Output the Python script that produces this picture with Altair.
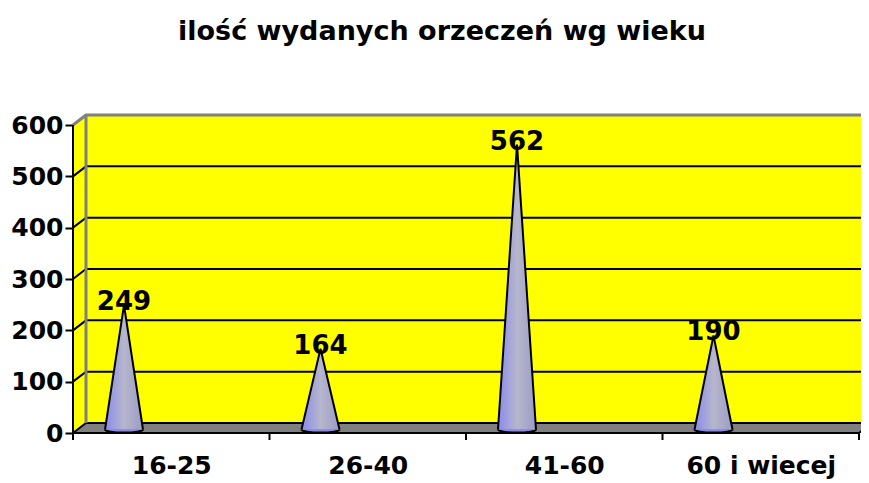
import json
import altair as alt
import pandas as pd

# ---------------- data ----------------
categories = ["16-25", "26-40", "41-60", "60 i wiecej"]
values = [249, 164, 562, 190]
y_ticks = [0, 100, 200, 300, 400, 500, 600]
title_text = "ilość wydanych orzeczeń wg wieku"

# ---------------- geometry (styling) ----------------
W, H = 788, 328                 # plot area in px
PX_CAT = 196.5                  # px per category band
PX_VAL = 308.0 / 600.0          # px per value unit
XMAX = W / PX_CAT
YMAX = H / PX_VAL
DX = 13 / PX_CAT                # 3D depth offset (x)
DY = 10 / PX_VAL                # 3D depth offset (y)
CONE_POS = 51 / PX_CAT          # cone position inside a band
HW = 19 / PX_CAT                # cone base half-width
BASE = 3.5 / PX_VAL             # cone base height above floor front
TOP = y_ticks[-1]
N = len(categories)

FONT = "DejaVu Sans"
YELLOW = "#FFFF00"
GRAY = "#808080"

xs = alt.Scale(domain=[0, XMAX], nice=False, zero=False)
ys = alt.Scale(domain=[0, YMAX], nice=False, zero=False)

xaxis = alt.Axis(
    values=[i + 0.5 for i in range(N)],
    labelExpr=json.dumps(categories) + "[round(datum.value - 0.5)]",
    ticks=False, domain=False, grid=False, title=None,
    labelFont=FONT, labelFontSize=25, labelFontWeight="bold", labelColor="black",
    labelPadding=20, labelFlush=False, labelOverlap=False,
)
yaxis = alt.Axis(
    values=y_ticks, tickSize=8, tickWidth=2, tickColor="black",
    domain=False, grid=False, title=None,
    labelFont=FONT, labelFontSize=25, labelFontWeight="bold", labelColor="black",
    labelPadding=2, labelFlush=False, labelOverlap=False,
)


def X(f):
    return alt.X(f, type="quantitative", scale=xs, axis=xaxis)


def Y(f):
    return alt.Y(f, type="quantitative", scale=ys, axis=yaxis)


# ---------------- frame tables ----------------
side_df = pd.DataFrame({"x": [0, DX], "y": [0, DY], "y2": [TOP, TOP + DY]})
back_df = pd.DataFrame({"x": [DX], "x2": [XMAX + 1], "y": [DY], "y2": [TOP + DY]})
floor_df = pd.DataFrame({"x": [0, DX, N, N + DX],
                         "y": [0, 0, 0, DY],
                         "y2": [0, DY, DY, DY]})
grid_rows = []
for v in y_ticks[:-1]:
    grid_rows += [{"g": v, "x": 0, "y": v},
                  {"g": v, "x": DX, "y": v + DY},
                  {"g": v, "x": XMAX, "y": v + DY}]
grid_df = pd.DataFrame(grid_rows)
border_df = pd.DataFrame({"x": [0, DX, XMAX], "y": [TOP, TOP + DY, TOP + DY]})
backedge_df = pd.DataFrame({"x": [DX], "y": [DY], "y2": [TOP + DY]})
rightedge_df = pd.DataFrame({"x": [N, N + DX], "y": [0, DY]})
xline_df = pd.DataFrame({"x": [0], "x2": [N], "y": [0]})
yline_df = pd.DataFrame({"x": [0], "y": [0], "y2": [TOP]})
xticks_df = pd.DataFrame({"x": list(range(N + 1))})

cone_rows = []
for i, (c, v) in enumerate(zip(categories, values)):
    cx = i + CONE_POS
    cone_rows += [{"cat": c, "x": cx - HW, "y": BASE, "b": BASE},
                  {"cat": c, "x": cx, "y": v, "b": BASE},
                  {"cat": c, "x": cx + HW, "y": BASE, "b": BASE}]
cone_df = pd.DataFrame(cone_rows)
lab_df = pd.DataFrame({"cat": categories, "value": values,
                       "x": [i + CONE_POS for i in range(N)],
                       "b": [BASE] * N})

# ---------------- layers ----------------
side = alt.Chart(side_df).mark_area(fill=YELLOW, stroke=None).encode(
    x=X("x"), y=Y("y"), y2="y2")
back = alt.Chart(back_df).mark_rect(fill=YELLOW, clip=True).encode(
    x=X("x"), x2="x2", y=Y("y"), y2="y2")
floor = alt.Chart(floor_df).mark_area(fill=GRAY, clip=True).encode(
    x=X("x"), y=Y("y"), y2="y2")
grid = alt.Chart(grid_df).mark_line(color="black", strokeWidth=2).encode(
    x=X("x"), y=Y("y"), detail="g:N")
border = alt.Chart(border_df).mark_line(color=GRAY, strokeWidth=3).encode(
    x=X("x"), y=Y("y"))
backedge = alt.Chart(backedge_df).mark_rule(color=GRAY, strokeWidth=3).encode(
    x=X("x"), y=Y("y"), y2="y2")
rightedge = alt.Chart(rightedge_df).mark_line(color="black", strokeWidth=2, clip=True).encode(
    x=X("x"), y=Y("y"))
xline = alt.Chart(xline_df).mark_rule(color="black", strokeWidth=2).encode(
    x=X("x"), x2="x2", y=Y("y"))
yline = alt.Chart(yline_df).mark_rule(color="black", strokeWidth=2).encode(
    x=X("x"), y=Y("y"), y2="y2")
xticks = alt.Chart(xticks_df).mark_rule(color="black", strokeWidth=2).encode(
    x=X("x"), y=alt.value(H), y2=alt.value(H + 7))

cone_fill = alt.Gradient(
    gradient="linear",
    stops=[alt.GradientStop(color="#8A8AF0", offset=0),
           alt.GradientStop(color="#B6B6CC", offset=0.5),
           alt.GradientStop(color="#9C9CC6", offset=1)],
    x1=0, x2=1, y1=0, y2=0,
)
cone_area = alt.Chart(cone_df).mark_area(fill=cone_fill, stroke=None, opacity=1).encode(
    x=X("x"), y=Y("y"), y2="b", detail="cat:N")
cone_base = alt.Chart(lab_df).mark_point(
    shape="M -1 0 A 1 0.16 0 0 0 1 0", size=(2 * 19) ** 2, filled=True,
    fill="#8C8CE8", stroke="black", strokeWidth=2, opacity=1).encode(
    x=X("x"), y=Y("b"))
cone_lines = alt.Chart(cone_df).mark_line(color="black", strokeWidth=2,
                                          strokeJoin="miter").encode(
    x=X("x"), y=Y("y"), detail="cat:N")
labels = alt.Chart(lab_df).mark_text(
    font=FONT, fontSize=26, fontWeight="bold", color="black",
    baseline="alphabetic", dy=5).encode(
    x=X("x"), y=Y("value:Q"), text="value:Q")

chart = alt.layer(
    side, back, floor, grid, border, backedge, rightedge,
    xline, yline, xticks, cone_area, cone_base, cone_lines, labels,
).properties(
    width=W, height=H,
    background="white",
    autosize=alt.AutoSizeParams(type="none"),
    padding={"left": 65, "top": 97, "right": 0, "bottom": 46},
    title=alt.TitleParams(title_text, font=FONT, fontSize=27, fontWeight="bold",
                          color="black", anchor="middle", dx=-25, offset=59),
).configure_view(stroke=None)

chart.save("out.html", embed_options={"renderer": "svg", "actions": False})
